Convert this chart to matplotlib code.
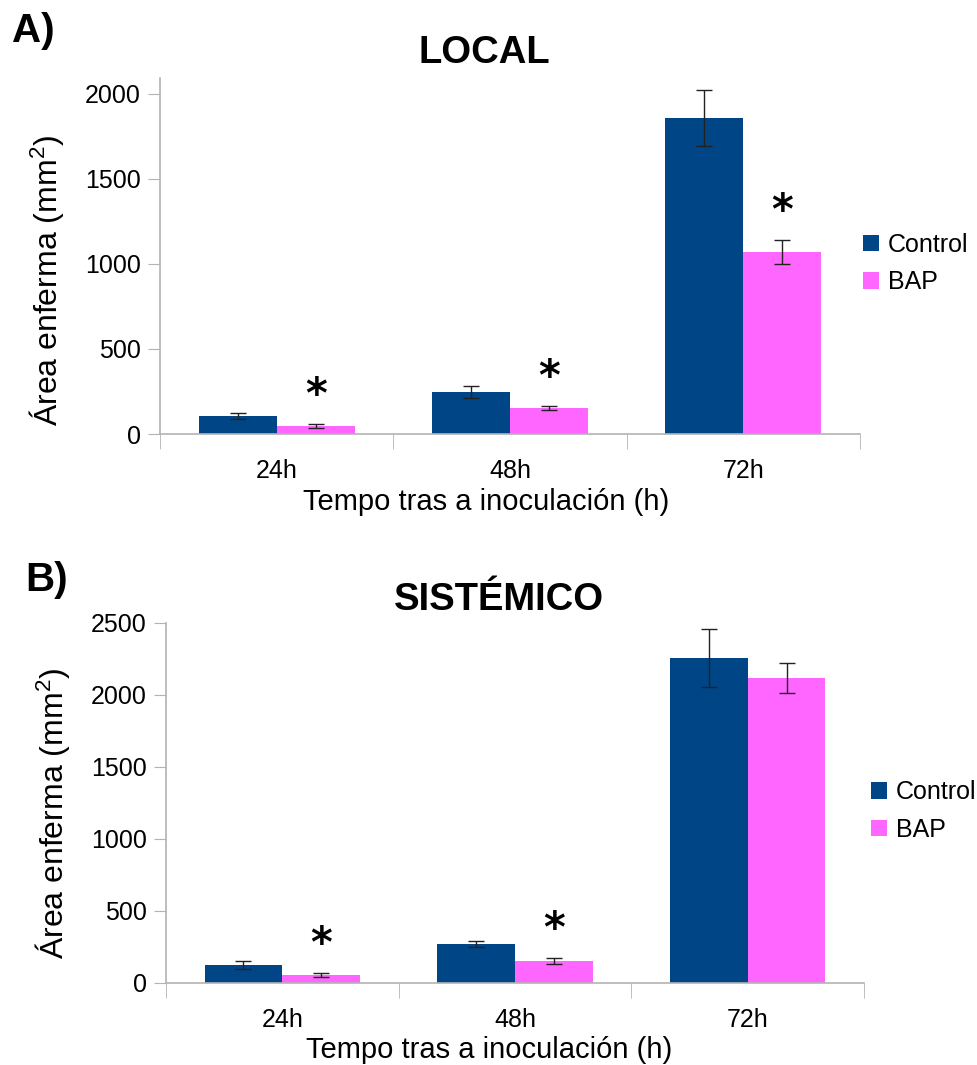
import matplotlib
matplotlib.use("Agg")
import matplotlib.pyplot as plt
import numpy as np

plt.rcParams['font.family'] = ['Liberation Sans', 'DejaVu Sans']
plt.rcParams['mathtext.fontset'] = 'custom'
plt.rcParams['mathtext.rm'] = 'Liberation Sans'
plt.rcParams['mathtext.it'] = 'Liberation Sans'

# data
tiempos = ['24h', '48h', '72h']
series = ['Control', 'BAP']
local_control = [106, 247, 1859]
local_control_err = [20, 33, 164]
local_bap = [49, 153, 1071]
local_bap_err = [12, 13, 72]
local_signif = [True, True, True]

sist_control = [123, 269, 2255]
sist_control_err = [25, 23, 203]
sist_bap = [53, 151, 2116]
sist_bap_err = [13, 20, 103]
sist_signif = [True, True, False]

azul = '#004586'
rosa = '#ff66ff'
gris = '#b3b3b3'

fig = plt.figure(figsize=(9.78, 10.65), dpi=100)
W, H = 978, 1065


def px(x0, y0, x1, y1):
    # pixel box (top-left origin) -> figure fraction
    return [x0 / W, 1 - y1 / H, (x1 - x0) / W, (y1 - y0) / H]


def panel(rect, ctrl, ctrl_err, bap, bap_err, signif, ymax, yticks):
    ax = fig.add_axes(rect)
    x = np.arange(len(tiempos))
    w = 0.334
    ax.bar(x - w / 2, ctrl, w, color=azul, label=series[0], zorder=2)
    ax.bar(x + w / 2, bap, w, color=rosa, label=series[1], zorder=2)
    ek = dict(ecolor='#222222', elinewidth=1, capsize=6, capthick=1, fmt='none', zorder=3)
    ax.errorbar(x - w / 2, ctrl, yerr=ctrl_err, **ek)
    ax.errorbar(x + w / 2, bap, yerr=bap_err, **ek)
    for i, s in enumerate(signif):
        if s:
            ax.annotate('*', xy=(x[i] + w / 2, bap[i] + bap_err[i]), xytext=(0, 20),
                        textcoords='offset points', ha='center', va='center',
                        fontsize=30, fontweight='bold', family='DejaVu Sans')
    ax.set_xlim(-0.5, len(tiempos) - 0.5)
    ax.set_ylim(0, ymax)
    ax.set_yticks(yticks)
    ax.set_xticks(x)
    ax.set_xticklabels(tiempos)
    ax.set_xticks(np.arange(len(tiempos) + 1) - 0.5, minor=True)
    ax.tick_params(axis='x', which='major', length=0, pad=18, labelsize=18)
    ax.tick_params(axis='x', which='minor', length=11, color=gris, direction='out')
    ax.tick_params(axis='y', length=9, color=gris, direction='out', pad=5, labelsize=18)
    for s in ['top', 'right']:
        ax.spines[s].set_visible(False)
    for s in ['left', 'bottom']:
        ax.spines[s].set_color(gris)
        ax.spines[s].set_linewidth(1.2)
    return ax


axA = panel(px(160, 78, 860, 434), local_control, local_control_err, local_bap,
            local_bap_err, local_signif, 2094, [0, 500, 1000, 1500, 2000])
axB = panel(px(166, 622.7, 864, 982.7), sist_control, sist_control_err, sist_bap,
            sist_bap_err, sist_signif, 2500, [0, 500, 1000, 1500, 2000, 2500])

for ax, lx, ly in [(axA, 863, 263.5), (axB, 871, 811)]:
    ax.legend(loc='center left', bbox_to_anchor=(lx / W, 1 - ly / H),
              bbox_transform=fig.transFigure, frameon=False, fontsize=18,
              handlelength=0.65, handleheight=0.65, handletextpad=0.35,
              labelspacing=0.55, borderpad=0, borderaxespad=0)

ylab = 'Área enferma (mm$^{2}$)'
xlab = 'Tempo tras a inoculación (h)'
fig.text(47 / W, 1 - 280 / H, ylab, rotation=90, ha='center', va='center', fontsize=23)
fig.text(53 / W, 1 - 813 / H, ylab, rotation=90, ha='center', va='center', fontsize=23)
fig.text(486 / W, 1 - 510 / H, xlab, ha='center', va='baseline', fontsize=21)
fig.text(489 / W, 1 - 1058 / H, xlab, ha='center', va='baseline', fontsize=21)

fig.text(484 / W, 1 - 63 / H, 'LOCAL', ha='center', va='baseline', fontsize=27.5, fontweight='bold')
fig.text(499 / W, 1 - 610 / H, 'SISTÉMICO', ha='center', va='baseline', fontsize=27.5, fontweight='bold')
fig.text(12 / W, 1 - 42 / H, 'A)', ha='left', va='baseline', fontsize=29, fontweight='bold')
fig.text(25 / W, 1 - 591 / H, 'B)', ha='left', va='baseline', fontsize=29, fontweight='bold')

fig.savefig('out.png', dpi=100)
